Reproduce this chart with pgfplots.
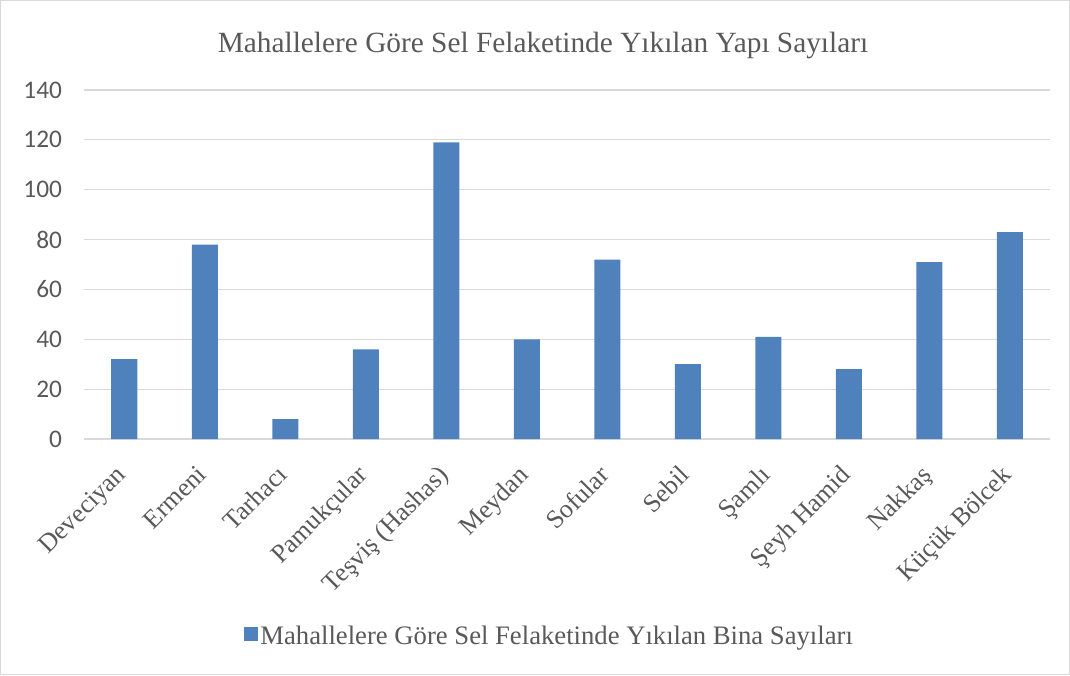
\documentclass[border=0pt]{standalone}
\usepackage{pgfplots}
\pgfplotsset{compat=1.18}
\usepackage{fontspec}
\setmainfont{Liberation Serif}
\newfontfamily\carlito{Carlito}
\definecolor{barblue}{HTML}{4F81BD}
\definecolor{txtgray}{HTML}{595959}
\definecolor{gridgray}{HTML}{D9D9D9}
\begin{document}
\begin{tikzpicture}
\draw[gridgray, line width=0.75pt] (0.375pt,0.375pt) rectangle (802.125pt,505.875pt);
\node[txtgray, font=\fontsize{22}{24}\selectfont] at (407.25pt,472.5pt) {Mahallelere Göre Sel Felaketinde Yıkılan Yapı Sayıları};
\begin{axis}[
  at={(63pt,177pt)}, anchor=south west,
  scale only axis, width=724.5pt, height=261.75pt,
  ymin=0, ymax=140, ytick={0,20,...,140},
  xmin=-0.5, xmax=11.5,
  xtick={0,...,11},
  xticklabels={Deveciyan,Ermeni,Tarhacı,Pamukçular,Teşviş (Hashas),Meydan,Sofular,Sebil,Şamlı,Şeyh Hamid,Nakkaş,Küçük Bölcek},
  x tick label style={rotate=45, anchor=north east, font=\fontsize{19.5}{21}\selectfont, text=txtgray, inner sep=1pt, yshift=-4pt, xshift=-14pt},
  y tick label style={font=\carlito\fontsize{19}{21}\selectfont, text=txtgray, xshift=-13pt},
  /pgf/number format/assume math mode=true,
  ymajorgrids, major grid style={gridgray, line width=0.9pt},
  axis line style={draw=none},
  axis x line*=bottom,
  x axis line style={gridgray, line width=0.9pt},
  tick style={draw=none},
  ybar, bar width=19.5pt,
  legend style={at={(0.482,-0.5645)}, anchor=center, draw=none, font=\fontsize{20}{22}\selectfont, text=txtgray, inner sep=0pt},
  legend image code/.code={\fill[barblue] (0cm,-0.12cm) rectangle (0.37cm,0.25cm);},
  legend cell align=left,
]
\addplot[fill=barblue, draw=none] coordinates {
(0,32) (1,78) (2,8) (3,36) (4,119) (5,40) (6,72) (7,30) (8,41) (9,28) (10,71) (11,83)};
\addlegendentry{Mahallelere Göre Sel Felaketinde Yıkılan Bina Sayıları}
\end{axis}
\end{tikzpicture}
\end{document}
